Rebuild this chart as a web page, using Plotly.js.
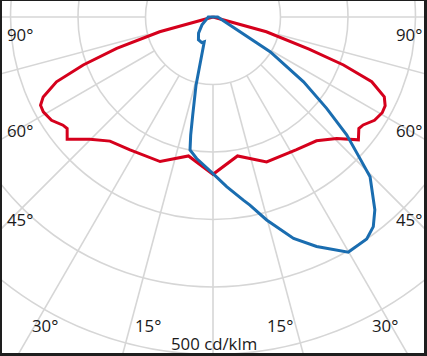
<!DOCTYPE html>
<html>
<head>
<meta charset="utf-8">
<script src="https://cdn.plot.ly/plotly-3.0.1.min.js"></script>
<style>
html,body{margin:0;padding:0;background:#1e1e1e;}
#chart{width:427px;height:356px;}
</style>
</head>
<body>
<div id="chart"></div>
<script>
// Photometric data: gamma angle (deg, negative = left half) and intensity (cd/klm)
var redGamma = [-90, -74.5, -72, -70.6, -69.7, -67.5, -64.8, -62.9, -60.8, -57.4, -54.2, -52.6, -50, -45.2, -39.7, -32, -20.1, -10, 0,
                10, 20.3, 32, 39.9, 45.5, 49.8, 52.6, 54.3, 57.4, 60.5, 62.7, 65, 67.8, 69.8, 71.5, 74.5, 90];
var redI =     [0, 82, 150, 177, 205, 251, 278, 287, 288, 284, 274, 272, 282, 257, 239, 232, 228, 209, 233,
                209, 229, 232, 239, 257, 282, 272, 274, 284, 288, 287, 280, 254, 206, 150, 82, 0];

var blueGamma = [-180, -90, -54.7, -42, -32.6, -23.7, -19.4, -18.1, -15.2, -14, -11.7, -10.7, -9.8, -6.6, 0,
                 4.6, 9.4, 11.1, 14.8, 20, 24.3, 29.9, 34.7, 37.4, 40, 44.5, 46.1, 48.6, 51.2, 54.4, 58.7, 64.8, 68.6, 90, 180];
var blueI =     [0, 7, 20, 32, 40, 41.5, 39, 46, 74, 104, 148, 178, 200, 211, 232,
                 252, 275, 284, 311, 349, 373, 402, 400, 391, 373, 332, 302, 264, 216, 165, 99, 28, 19, 7, 0];

var ringValues = [100, 200, 300, 400, 500];
var spokeAngles = [-90, -75, -60, -45, -30, -15, 0, 15, 30, 45, 60, 75, 90];

var angleLabels = ["90°", "90°", "60°", "60°", "45°", "45°", "30°", "15°", "15°", "30°"];
var scaleLabel = "500 cd/klm";

function toXY(g, I) {
  var x = [], y = [];
  for (var i = 0; i < g.length; i++) {
    var a = g[i] * Math.PI / 180;
    x.push(I[i] * Math.sin(a));
    y.push(-I[i] * Math.cos(a));
  }
  return {x: x, y: y};
}

var red = toXY(redGamma, redI);
var blue = toXY(blueGamma, blueI);

var gridColor = '#d6d6d6';
var shapes = [];
ringValues.forEach(function (r) {
  shapes.push({type: 'circle', xref: 'x', yref: 'y', x0: -r, x1: r, y0: -r, y1: r,
               line: {color: gridColor, width: 1.6}, layer: 'below'});
});
spokeAngles.forEach(function (g) {
  var a = g * Math.PI / 180;
  var r0 = ringValues[0], r1 = 1200;
  shapes.push({type: 'line', xref: 'x', yref: 'y',
               x0: r0 * Math.sin(a), y0: -r0 * Math.cos(a),
               x1: r1 * Math.sin(a), y1: -r1 * Math.cos(a),
               line: {color: gridColor, width: 1.6}, layer: 'below'});
});

// label pixel positions (layout)
var W = 427, H = 356, mL = 2, mT = 1, mR = 3, mB = 3;
var pw = W - mL - mR, ph = H - mT - mB;
function px(x) { return (x - mL) / pw; }
function py(y) { return (H - mB - y) / ph; }
var labelPos = [[19.5, 35], [409, 35], [19.5, 131], [409, 131], [19.5, 220], [409, 220],
                [44.5, 325], [148, 325], [280, 325], [384.5, 325]];
var font = {family: 'Open Sans, Noto Sans, sans-serif', size: 16.8, color: '#1a1a1a'};
var annotations = angleLabels.map(function (t, i) {
  return {text: t, xref: 'paper', yref: 'paper', x: px(labelPos[i][0]), y: py(labelPos[i][1]),
          xanchor: 'center', yanchor: 'middle', showarrow: false, font: font};
});
annotations.push({text: scaleLabel, xref: 'paper', yref: 'paper', x: px(214), y: py(343),
                  xanchor: 'center', yanchor: 'middle', showarrow: false, font: font});

var traces = [
  {type: 'scatter', mode: 'lines', x: red.x, y: red.y, line: {color: '#d5001c', width: 3}, hoverinfo: 'skip'},
  {type: 'scatter', mode: 'lines', x: blue.x, y: blue.y, line: {color: '#1a6db0', width: 3}, hoverinfo: 'skip'}
];

var s = 0.675; // px per cd/klm
var layout = {
  width: W, height: H,
  margin: {l: mL, r: mR, t: mT, b: mB, pad: 0},
  paper_bgcolor: '#1e1e1e',
  plot_bgcolor: '#ffffff',
  showlegend: false,
  xaxis: {range: [(mL - 213) / s, (W - mR - 213) / s], visible: false, fixedrange: true},
  yaxis: {range: [-(H - mB - 17) / s, (17 - mT) / s], visible: false, fixedrange: true},
  shapes: shapes,
  annotations: annotations
};

Plotly.newPlot('chart', traces, layout, {displayModeBar: false, staticPlot: true});
</script>
</body>
</html>
